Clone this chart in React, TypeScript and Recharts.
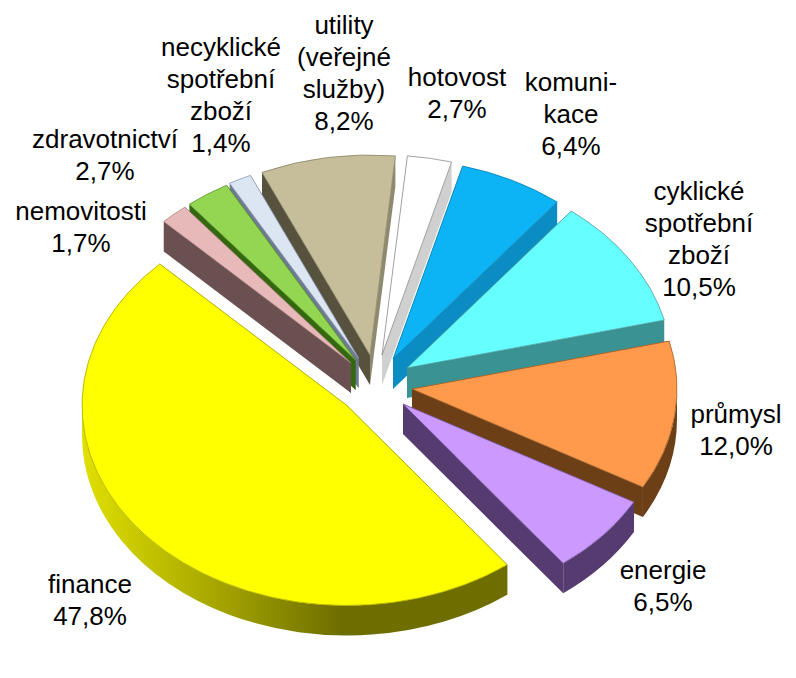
import { PieChart, Pie } from 'recharts';

const categories = [
  'hotovost',
  'komuni-\nkace',
  'cyklické\nspotřební\nzboží',
  'průmysl',
  'energie',
  'finance',
  'nemovitosti',
  'zdravotnictví',
  'necyklické\nspotřební\nzboží',
  'utility\n(veřejné\nslužby)',
];
const shares = [2.7, 6.4, 10.5, 12.0, 6.5, 47.8, 1.7, 2.7, 1.4, 8.2];

const topColors = ['#ffffff', '#0cb4f6', '#66ffff', '#ff9a4c', '#cc99ff', '#ffff00', '#e8b9b9', '#92d652', '#dce6f3', '#c6be9a'];
const wallColors = ['#d0d0d0', '#0b8dc4', '#3b9292', '#6c3f17', '#553b70', 'url(#financeWall)', '#6a5050', '#33680f', '#6e7a92', '#57523e'];
const edgeColors = ['#8c8c8c', '#0a7fb0', '#4f9a9a', '#a0622a', '#7a5aa0', '#a8a800', '#a88080', '#5c9030', '#8c98b0', '#8a8468'];

// exploded offset of every slice from the pie centre
const explode = [
  [7, -30], [18, -26], [32, -17], [37, 4], [28, 19], [-28, 20.5], [-24, -22], [-19.5, -25], [-16.5, -27], [-5, -30],
];
// label centre x and first line centre y
const labelAnchors = [
  [457, 77], [571, 82], [699, 191], [736, 414], [663, 570], [90, 584], [81, 211], [105, 139], [221, 47], [344, 25],
];

const WIDTH = 796;
const HEIGHT = 678;
const CX = 375;
const CY = 385;
const RX = 265;
const RY = 200;
const DEPTH = 30;
const LINE = 32;
const FIRST_LEFT = 6; // nemovitosti onwards, walls painted back to front

const tableData = categories.map((name, i) => ({ name, value: shares[i] }));
const reversedData = [...tableData].reverse();

// point on the tilted rim, angle in degrees clockwise from the top
const rim = (ox: number, oy: number, cw: number) => {
  const rad = (cw * Math.PI) / 180;
  return [ox + RX * Math.sin(rad), oy - RY * Math.cos(rad)];
};

const drawWall = (props: any, index: number, a: number, b: number) => {
  const ox = props.cx + explode[index][0];
  const oy = props.cy + explode[index][1];
  const wall = wallColors[index];
  // the strip under the rim only shows on the front half
  const from = Math.max(a, 90);
  const to = Math.min(b, 270);
  const [ax, ay] = rim(ox, oy, a);
  const [bx, by] = rim(ox, oy, b);
  const quad = (x: number, y: number) =>
    `M${ox},${oy} L${x},${y} L${x},${y + DEPTH} L${ox},${oy + DEPTH} Z`;
  let outer = '';
  if (to > from) {
    const [fx, fy] = rim(ox, oy, from);
    const [tx, ty] = rim(ox, oy, to);
    const large = to - from > 180 ? 1 : 0;
    outer = `M${fx},${fy} A${RX},${RY} 0 ${large} 1 ${tx},${ty} L${tx},${ty + DEPTH} A${RX},${RY} 0 ${large} 0 ${fx},${fy + DEPTH} Z`;
  }
  return (
    <g>
      <defs>
        <linearGradient id="financeWall" gradientUnits="userSpaceOnUse" x1="82" y1="0" x2="340" y2="0">
          <stop offset="0" stopColor="#e0e000" />
          <stop offset="0.5" stopColor="#a8a800" />
          <stop offset="1" stopColor="#6e6e00" />
        </linearGradient>
      </defs>
      <path d={quad(ax, ay)} fill={index === 5 ? '#6e6e00' : wall} />
      <path d={quad(bx, by)} fill={index === 9 ? '#8f8970' : index === 5 ? '#6e6e00' : wall} />
      {outer && <path d={outer} fill={wall} />}
    </g>
  );
};

const RightWall = (props: any) => {
  if (props.index >= FIRST_LEFT) return <g />;
  return drawWall(props, props.index, 90 - props.startAngle, 90 - props.endAngle);
};

// this pie runs the other way round, so utility is painted first
const LeftWall = (props: any) => {
  const index = categories.length - 1 - props.index;
  if (index < FIRST_LEFT) return <g />;
  return drawWall(props, index, 90 - props.endAngle, 90 - props.startAngle);
};

const TopShape = (props: any) => {
  const { startAngle, endAngle, index } = props;
  const ox = props.cx + explode[index][0];
  const oy = props.cy + explode[index][1];
  const a = 90 - startAngle;
  const b = 90 - endAngle;
  const [ax, ay] = rim(ox, oy, a);
  const [bx, by] = rim(ox, oy, b);
  return (
    <path
      d={`M${ox},${oy} L${ax},${ay} A${RX},${RY} 0 ${b - a > 180 ? 1 : 0} 1 ${bx},${by} Z`}
      fill={topColors[index]}
      stroke={edgeColors[index]}
      strokeWidth={0.8}
      strokeLinejoin="round"
    />
  );
};

const renderLabel = ({ index }: any) => {
  const lines = [...categories[index].split('\n'), `${shares[index].toFixed(1).replace('.', ',')}%`];
  const [x, y] = labelAnchors[index];
  return (
    <text x={x} y={y} textAnchor="middle" fontFamily="'Liberation Sans', Arial, sans-serif" fontSize={26} fill="#000">
      {lines.map((line, i) => (
        <tspan key={line} x={x} y={y + i * LINE} dominantBaseline="central">
          {line}
        </tspan>
      ))}
    </text>
  );
};

export default function App() {
  return (
    <div style={{ position: 'absolute', left: 0, top: 0, width: WIDTH, height: HEIGHT, background: '#fff' }}>
      <PieChart width={WIDTH} height={HEIGHT} margin={{ top: 0, right: 0, bottom: 0, left: 0 }}>
        <Pie
          data={reversedData}
          dataKey="value"
          cx={CX}
          cy={CY}
          outerRadius={RX}
          startAngle={84.5}
          endAngle={444.5}
          shape={LeftWall}
          isAnimationActive={false}
        />
        <Pie
          data={tableData}
          dataKey="value"
          cx={CX}
          cy={CY}
          outerRadius={RX}
          startAngle={84.5}
          endAngle={-275.5}
          shape={RightWall}
          isAnimationActive={false}
        />
        <Pie
          data={tableData}
          dataKey="value"
          cx={CX}
          cy={CY}
          outerRadius={RX}
          startAngle={84.5}
          endAngle={-275.5}
          shape={TopShape}
          label={renderLabel}
          labelLine={false}
          isAnimationActive={false}
        />
      </PieChart>
    </div>
  );
}
